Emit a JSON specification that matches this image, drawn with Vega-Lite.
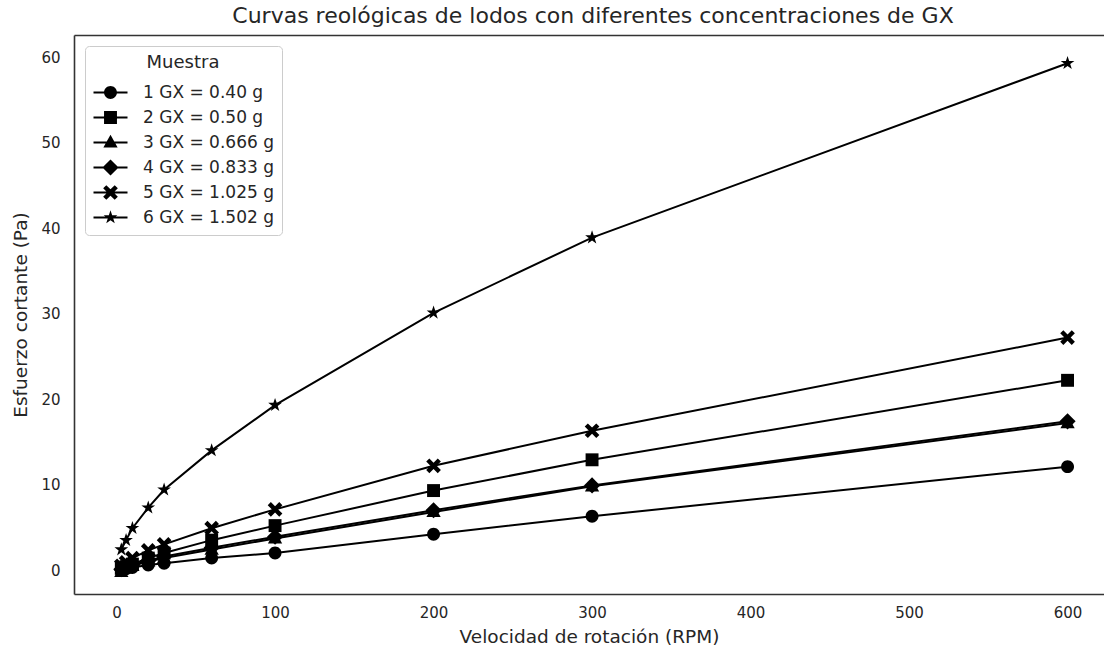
{
  "$schema": "https://vega.github.io/schema/vega-lite/v6.json",
  "width": 1030,
  "height": 559,
  "autosize": {"type": "none"},
  "padding": {"left": 74, "top": 35, "right": 0, "bottom": 58},
  "background": "white",
  "title": {
    "text": "Curvas reológicas de lodos con diferentes concentraciones de GX",
    "font": "DejaVu Sans",
    "fontSize": 22,
    "fontWeight": "normal",
    "color": "#262626",
    "anchor": "middle",
    "dx": 4,
    "offset": 7
  },
  "config": {
    "font": "DejaVu Sans",
    "view": {"stroke": null},
    "axis": {
      "grid": false,
      "ticks": false,
      "domain": true,
      "domainColor": "#333333",
      "domainWidth": 1.6,
      "labelFont": "DejaVu Sans",
      "labelFontSize": 15,
      "labelColor": "#262626",
      "titleFont": "DejaVu Sans",
      "titleFontSize": 18.5,
      "titleFontWeight": "normal",
      "titleColor": "#262626"
    }
  },
  "data": {
    "values": [
      {"muestra": "1 GX = 0.40 g", "rpm": 3, "esfuerzo": 0.05},
      {"muestra": "1 GX = 0.40 g", "rpm": 6, "esfuerzo": 0.15},
      {"muestra": "1 GX = 0.40 g", "rpm": 10, "esfuerzo": 0.3},
      {"muestra": "1 GX = 0.40 g", "rpm": 20, "esfuerzo": 0.6},
      {"muestra": "1 GX = 0.40 g", "rpm": 30, "esfuerzo": 0.8},
      {"muestra": "1 GX = 0.40 g", "rpm": 60, "esfuerzo": 1.4},
      {"muestra": "1 GX = 0.40 g", "rpm": 100, "esfuerzo": 2.0},
      {"muestra": "1 GX = 0.40 g", "rpm": 200, "esfuerzo": 4.2},
      {"muestra": "1 GX = 0.40 g", "rpm": 300, "esfuerzo": 6.3},
      {"muestra": "1 GX = 0.40 g", "rpm": 600, "esfuerzo": 12.1},
      {"muestra": "2 GX = 0.50 g", "rpm": 3, "esfuerzo": 0.2},
      {"muestra": "2 GX = 0.50 g", "rpm": 6, "esfuerzo": 0.4},
      {"muestra": "2 GX = 0.50 g", "rpm": 10, "esfuerzo": 0.7},
      {"muestra": "2 GX = 0.50 g", "rpm": 20, "esfuerzo": 1.4},
      {"muestra": "2 GX = 0.50 g", "rpm": 30, "esfuerzo": 2.0},
      {"muestra": "2 GX = 0.50 g", "rpm": 60, "esfuerzo": 3.5},
      {"muestra": "2 GX = 0.50 g", "rpm": 100, "esfuerzo": 5.2},
      {"muestra": "2 GX = 0.50 g", "rpm": 200, "esfuerzo": 9.3},
      {"muestra": "2 GX = 0.50 g", "rpm": 300, "esfuerzo": 12.9},
      {"muestra": "2 GX = 0.50 g", "rpm": 600, "esfuerzo": 22.2},
      {"muestra": "3 GX = 0.666 g", "rpm": 3, "esfuerzo": -0.2},
      {"muestra": "3 GX = 0.666 g", "rpm": 6, "esfuerzo": 0.2},
      {"muestra": "3 GX = 0.666 g", "rpm": 10, "esfuerzo": 0.5},
      {"muestra": "3 GX = 0.666 g", "rpm": 20, "esfuerzo": 1.0},
      {"muestra": "3 GX = 0.666 g", "rpm": 30, "esfuerzo": 1.4},
      {"muestra": "3 GX = 0.666 g", "rpm": 60, "esfuerzo": 2.4},
      {"muestra": "3 GX = 0.666 g", "rpm": 100, "esfuerzo": 3.7},
      {"muestra": "3 GX = 0.666 g", "rpm": 200, "esfuerzo": 6.8},
      {"muestra": "3 GX = 0.666 g", "rpm": 300, "esfuerzo": 9.8},
      {"muestra": "3 GX = 0.666 g", "rpm": 600, "esfuerzo": 17.2},
      {"muestra": "4 GX = 0.833 g", "rpm": 3, "esfuerzo": 0.1},
      {"muestra": "4 GX = 0.833 g", "rpm": 6, "esfuerzo": 0.3},
      {"muestra": "4 GX = 0.833 g", "rpm": 10, "esfuerzo": 0.6},
      {"muestra": "4 GX = 0.833 g", "rpm": 20, "esfuerzo": 1.1},
      {"muestra": "4 GX = 0.833 g", "rpm": 30, "esfuerzo": 1.6},
      {"muestra": "4 GX = 0.833 g", "rpm": 60, "esfuerzo": 2.6},
      {"muestra": "4 GX = 0.833 g", "rpm": 100, "esfuerzo": 3.9},
      {"muestra": "4 GX = 0.833 g", "rpm": 200, "esfuerzo": 7.0},
      {"muestra": "4 GX = 0.833 g", "rpm": 300, "esfuerzo": 9.9},
      {"muestra": "4 GX = 0.833 g", "rpm": 600, "esfuerzo": 17.4},
      {"muestra": "5 GX = 1.025 g", "rpm": 3, "esfuerzo": 0.5},
      {"muestra": "5 GX = 1.025 g", "rpm": 6, "esfuerzo": 0.9},
      {"muestra": "5 GX = 1.025 g", "rpm": 10, "esfuerzo": 1.4},
      {"muestra": "5 GX = 1.025 g", "rpm": 20, "esfuerzo": 2.3},
      {"muestra": "5 GX = 1.025 g", "rpm": 30, "esfuerzo": 3.0},
      {"muestra": "5 GX = 1.025 g", "rpm": 60, "esfuerzo": 4.9},
      {"muestra": "5 GX = 1.025 g", "rpm": 100, "esfuerzo": 7.1},
      {"muestra": "5 GX = 1.025 g", "rpm": 200, "esfuerzo": 12.2},
      {"muestra": "5 GX = 1.025 g", "rpm": 300, "esfuerzo": 16.3},
      {"muestra": "5 GX = 1.025 g", "rpm": 600, "esfuerzo": 27.2},
      {"muestra": "6 GX = 1.502 g", "rpm": 3, "esfuerzo": 2.4},
      {"muestra": "6 GX = 1.502 g", "rpm": 6, "esfuerzo": 3.5},
      {"muestra": "6 GX = 1.502 g", "rpm": 10, "esfuerzo": 4.9},
      {"muestra": "6 GX = 1.502 g", "rpm": 20, "esfuerzo": 7.3},
      {"muestra": "6 GX = 1.502 g", "rpm": 30, "esfuerzo": 9.4},
      {"muestra": "6 GX = 1.502 g", "rpm": 60, "esfuerzo": 14.0},
      {"muestra": "6 GX = 1.502 g", "rpm": 100, "esfuerzo": 19.3},
      {"muestra": "6 GX = 1.502 g", "rpm": 200, "esfuerzo": 30.1},
      {"muestra": "6 GX = 1.502 g", "rpm": 300, "esfuerzo": 38.9},
      {"muestra": "6 GX = 1.502 g", "rpm": 600, "esfuerzo": 59.3}
    ]
  },
  "encoding": {
    "y": {
      "field": "esfuerzo",
      "type": "quantitative",
      "title": "Esfuerzo cortante (Pa)",
      "scale": {"domain": [-2.8, 62.6], "nice": false, "zero": false},
      "axis": {"values": [0, 10, 20, 30, 40, 50, 60], "labelPadding": 14, "titlePadding": 10}
    }
  },
  "layer": [
    {
      "mark": {"type": "line", "color": "black", "strokeWidth": 2},
      "encoding": {
        "x": {
          "field": "rpm",
          "type": "quantitative",
          "title": "Velocidad de rotación (RPM)",
          "scale": {"domain": [-26.85, 623], "nice": false, "zero": false},
          "axis": {"orient": "bottom", "values": [0, 100, 200, 300, 400, 500, 600], "labelPadding": 11, "titlePadding": 7}
        },
        "detail": {"field": "muestra"}
      }
    },
    {
      "mark": {"type": "point", "filled": true, "color": "black", "opacity": 1, "size": 289},
      "encoding": {
        "x": {
          "field": "rpm",
          "type": "quantitative",
          "scale": {"domain": [-26.85, 623], "nice": false, "zero": false},
          "axis": {"orient": "top", "labels": false, "ticks": false, "title": null, "domain": true}
        },
        "shape": {
          "field": "muestra",
          "type": "nominal",
          "legend": null,
          "scale": {
            "domain": ["1 GX = 0.40 g", "2 GX = 0.50 g", "3 GX = 0.666 g", "4 GX = 0.833 g", "5 GX = 1.025 g", "6 GX = 1.502 g"],
            "range": [
              "M0.76,0A0.76,0.76,0,1,1,-0.76,0A0.76,0.76,0,1,1,0.76,0Z",
              "M-0.76,-0.76H0.76V0.76H-0.76Z",
              "M0,-0.9L0.84,0.6L-0.84,0.6Z",
              "M0,-0.95L0.95,0L0,0.95L-0.95,0Z",
              "M0.495,-0.863L0.863,-0.495L0.368,0L0.863,0.495L0.495,0.863L0,0.368L-0.495,0.863L-0.863,0.495L-0.368,0L-0.863,-0.495L-0.495,-0.863L0,-0.368Z",
              "M0,-0.85L0.194,-0.267L0.808,-0.263L0.314,0.102L0.5,0.688L0,0.33L-0.5,0.688L-0.314,0.102L-0.808,-0.263L-0.194,-0.267Z"
            ]
          }
        }
      }
    },
    {
      "transform": [{"filter": "false"}],
      "mark": {"type": "point", "filled": true, "color": "black", "opacity": 1, "size": 289},
      "encoding": {
        "x": {
          "field": "rpm",
          "type": "quantitative",
          "scale": {"domain": [-26.85, 623], "nice": false, "zero": false},
          "axis": null
        },
        "shape": {
          "field": "muestra",
          "type": "nominal",
          "title": "Muestra",
          "scale": {
            "domain": ["1 GX = 0.40 g", "2 GX = 0.50 g", "3 GX = 0.666 g", "4 GX = 0.833 g", "5 GX = 1.025 g", "6 GX = 1.502 g"],
            "range": [
              "M-2,-0.12H2V0.12H-2ZM0.76,0A0.76,0.76,0,1,1,-0.76,0A0.76,0.76,0,1,1,0.76,0Z",
              "M-2,-0.12H2V0.12H-2ZM-0.76,-0.76H0.76V0.76H-0.76Z",
              "M-2,-0.12H2V0.12H-2ZM0,-0.9L0.84,0.6L-0.84,0.6Z",
              "M-2,-0.12H2V0.12H-2ZM0,-0.95L0.95,0L0,0.95L-0.95,0Z",
              "M-2,-0.12H2V0.12H-2ZM0.495,-0.863L0.863,-0.495L0.368,0L0.863,0.495L0.495,0.863L0,0.368L-0.495,0.863L-0.863,0.495L-0.368,0L-0.863,-0.495L-0.495,-0.863L0,-0.368Z",
              "M-2,-0.12H2V0.12H-2ZM0,-0.85L0.194,-0.267L0.808,-0.263L0.314,0.102L0.5,0.688L0,0.33L-0.5,0.688L-0.314,0.102L-0.808,-0.263L-0.194,-0.267Z"
            ]
          },
          "legend": {
            "orient": "none",
            "legendX": 11,
            "legendY": 11,
            "fillColor": "white",
            "strokeColor": "#cccccc",
            "cornerRadius": 4,
            "padding": 8,
            "symbolOffset": 8,
            "symbolSize": 289,
            "symbolFillColor": "black",
            "symbolOpacity": 1,
            "labelOffset": 23,
            "labelFont": "DejaVu Sans",
            "labelFontSize": 17,
            "labelColor": "#262626",
            "labelLimit": 300,
            "gridAlign": "all",
            "rowPadding": 2,
            "titleFont": "DejaVu Sans",
            "titleFontSize": 18,
            "titleFontWeight": "normal",
            "titleColor": "#262626",
            "titleAnchor": "middle",
            "titlePadding": 11
          }
        }
      }
    }
  ],
  "resolve": {
    "scale": {"shape": "independent"},
    "legend": {"shape": "independent"},
    "axis": {"x": "independent"}
  }
}
